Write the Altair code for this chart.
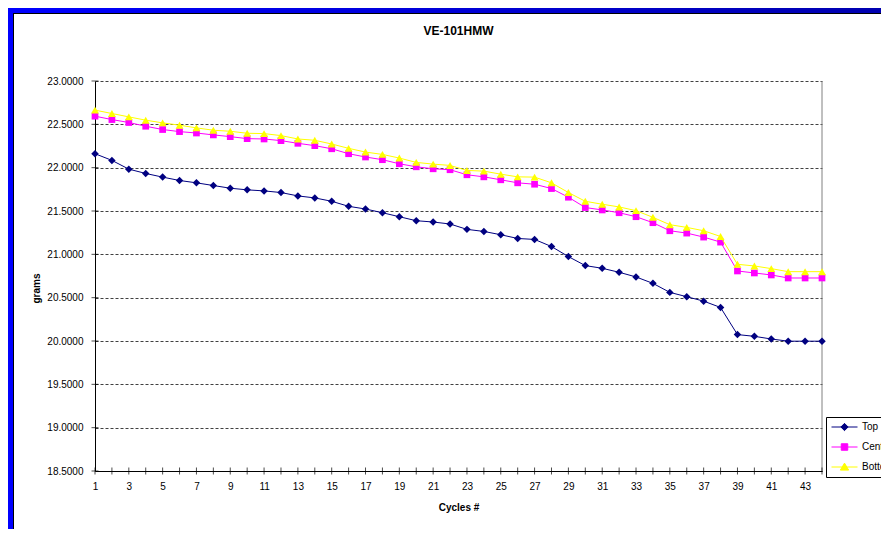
import altair as alt
import pandas as pd

# ---------------- data ----------------
cycles = list(range(1, 45))

top = [22.161, 22.084, 21.983, 21.933, 21.891, 21.852, 21.825, 21.794, 21.763, 21.744,
       21.732, 21.713, 21.674, 21.651, 21.612, 21.554, 21.523, 21.480, 21.434, 21.388,
       21.373, 21.350, 21.288, 21.264, 21.226, 21.183, 21.172, 21.090, 20.974, 20.870,
       20.839, 20.793, 20.739, 20.665, 20.561, 20.511, 20.460, 20.387, 20.074, 20.054,
       20.023, 19.998, 19.998, 19.998]

center = [22.594, 22.555, 22.521, 22.478, 22.440, 22.416, 22.400, 22.378, 22.358, 22.335,
          22.331, 22.312, 22.281, 22.254, 22.218, 22.161, 22.123, 22.092, 22.045, 22.010,
          21.987, 21.976, 21.918, 21.894, 21.860, 21.825, 21.809, 21.759, 21.659, 21.540,
          21.512, 21.480, 21.434, 21.365, 21.272, 21.245, 21.199, 21.141, 20.808, 20.785,
          20.762, 20.727, 20.727, 20.727]

bottom = [22.664, 22.625, 22.586, 22.548, 22.517, 22.490, 22.459, 22.432, 22.420, 22.397,
          22.393, 22.370, 22.331, 22.316, 22.273, 22.223, 22.180, 22.153, 22.111, 22.061,
          22.041, 22.026, 21.968, 21.960, 21.925, 21.894, 21.891, 21.825, 21.713, 21.612,
          21.578, 21.547, 21.504, 21.427, 21.342, 21.311, 21.272, 21.206, 20.885, 20.866,
          20.835, 20.800, 20.800, 20.800]

series_names = ["Top", "Center", "Bottom"]
series_colors = ["#000080", "#FF00FF", "#FFFF00"]
series_shapes = ["diamond", "square", "triangle-up"]
series_sizes = [56, 45, 64]

y_tick_values = [18.5, 19.0, 19.5, 20.0, 20.5, 21.0, 21.5, 22.0, 22.5, 23.0]
x_label_values = list(range(1, 45, 2))

chart_title = "VE-101HMW"
x_title = "Cycles #"
y_title = "grams"

# ---------------- layout ----------------
W, H = 727, 390
PAD_L, PAD_T = 87, 73
SVG_W, SVG_H = 873, 521
PAD_R = SVG_W - W - PAD_L
PAD_B = SVG_H - H - PAD_T
FONT = "Liberation Sans"

rows = []
for name, vals in zip(series_names, [top, center, bottom]):
    for c, v in zip(cycles, vals):
        rows.append({"Series": name, "Cycle": c, "grams": v})
df = pd.DataFrame(rows)

xscale = alt.Scale(domain=[1, 44], nice=False, zero=False)
yscale = alt.Scale(domain=[18.5, 23.0], nice=False, zero=False)
color_scale = alt.Scale(domain=series_names, range=series_colors)

# legend symbols: short line with the series marker in the middle
legend_paths = [
    "M-1,0H1M0,-0.28L0.28,0L0,0.28L-0.28,0Z",
    "M-1,0H1M-0.25,-0.25H0.25V0.25H-0.25Z",
    "M-1,0H1M0,-0.3L0.32,0.24H-0.32Z",
]
shape_scale = alt.Scale(domain=series_names, range=legend_paths)

x_axis = alt.Axis(values=x_label_values, grid=False, ticks=False, tickSize=0,
                  domainColor="black", domainWidth=1, labelColor="black",
                  labelFont=FONT, labelFontSize=10, labelPadding=10,
                  labelFlush=False, labelOverlap=False, format="d",
                  titleFont=FONT, titleFontSize=10, titleFontWeight="bold",
                  titleColor="black", titleY=36, titleBaseline="middle")
y_axis = alt.Axis(values=y_tick_values, grid=True, gridColor="#404040", gridDash=[3, 2],
                  gridWidth=1, ticks=False, tickSize=0, domainColor="black",
                  domainWidth=1, labelColor="black", labelFont=FONT, labelFontSize=10,
                  labelPadding=12, format=".4f",
                  titleFont=FONT, titleFontSize=10, titleFontWeight="bold",
                  titleColor="black", titleX=-59, titleY=207, titleAngle=270,
                  titleAlign="center", titleBaseline="middle")

X = alt.X("Cycle:Q", scale=xscale, axis=x_axis, title=x_title)
Y = alt.Y("grams:Q", scale=yscale, axis=y_axis, title=y_title)

legend = alt.Legend(
    orient="none", legendX=731, legendY=336, title=None,
    strokeColor="black", fillColor="white", padding=5,
    symbolSize=676, clipHeight=10, rowPadding=10, labelOffset=4,
    symbolStrokeWidth=1, symbolOpacity=1,
    labelFont=FONT, labelFontSize=10, labelColor="black", labelLimit=200,
)
COLOR = alt.Color("Series:N", scale=color_scale, legend=legend)

one = pd.DataFrame({"k": [0]})

# window frame (blue band with dark inner line)
band_top = alt.Chart(one).mark_rect(
    fill={"gradient": "linear", "x1": 0, "y1": 0, "x2": 1, "y2": 0,
          "stops": [{"offset": 0, "color": "#0000FF"}, {"offset": 1, "color": "#0000B0"}]}
).encode(x=alt.value(-PAD_L), x2=alt.value(SVG_W - PAD_L),
         y=alt.value(-PAD_T), y2=alt.value(-PAD_T + 5))
band_left = alt.Chart(one).mark_rect(fill="#0000FF").encode(
    x=alt.value(-PAD_L), x2=alt.value(-PAD_L + 5),
    y=alt.value(-PAD_T), y2=alt.value(SVG_H - PAD_T))
line_top = alt.Chart(one).mark_rect(fill="#000000").encode(
    x=alt.value(-PAD_L + 5), x2=alt.value(SVG_W - PAD_L),
    y=alt.value(-PAD_T + 5), y2=alt.value(-PAD_T + 6))
line_left = alt.Chart(one).mark_rect(fill="#000000").encode(
    x=alt.value(-PAD_L + 5), x2=alt.value(-PAD_L + 6),
    y=alt.value(-PAD_T + 5), y2=alt.value(SVG_H - PAD_T))

# chart title
title_mark = alt.Chart(one).mark_text(
    text=chart_title, font=FONT, fontSize=12, fontWeight="bold", color="black",
    align="center", baseline="middle").encode(x=alt.value(W / 2), y=alt.value(-50))

# right border of the plot area
right_border = alt.Chart(one).mark_rule(color="#808080", strokeWidth=1).encode(
    x=alt.value(W), y=alt.value(0), y2=alt.value(H))

# crossing tick marks
x_ticks = alt.Chart(pd.DataFrame({"Cycle": cycles})).mark_tick(
    orient="vertical", size=7, thickness=1, color="black").encode(x=X, y=alt.value(H))
y_ticks = alt.Chart(pd.DataFrame({"grams": y_tick_values})).mark_tick(
    orient="horizontal", size=7, thickness=1, color="black").encode(y=Y, x=alt.value(0))

base = alt.Chart(df)
layers = [band_top, band_left, line_top, line_left, title_mark, right_border]
for name, shape, size in zip(series_names, series_shapes, series_sizes):
    sub = base.transform_filter(alt.datum.Series == name)
    layers.append(sub.mark_line(strokeWidth=1).encode(x=X, y=Y, color=COLOR))
    layers.append(sub.mark_point(filled=True, shape=shape, size=size, opacity=1).encode(
        x=X, y=Y, color=COLOR))

# legend-only layer (drawn off-canvas) carrying the line+marker legend symbols
legend_layer = alt.Chart(pd.DataFrame({"Series": series_names})).mark_point(
    filled=True, opacity=1, strokeWidth=1).encode(
    x=alt.value(-2000), y=alt.value(-2000),
    color=COLOR,
    stroke=alt.Stroke("Series:N", scale=color_scale, legend=legend),
    shape=alt.Shape("Series:N", scale=shape_scale, legend=legend),
)
layers += [x_ticks, y_ticks, legend_layer]

chart = alt.layer(*layers).properties(
    width=W, height=H,
    autosize=alt.AutoSizeParams(type="none"),
    padding={"left": PAD_L, "top": PAD_T, "right": PAD_R, "bottom": PAD_B},
    background="white",
).configure_view(stroke=None)

chart.save("out.html", embed_options={"renderer": "svg", "actions": False})
